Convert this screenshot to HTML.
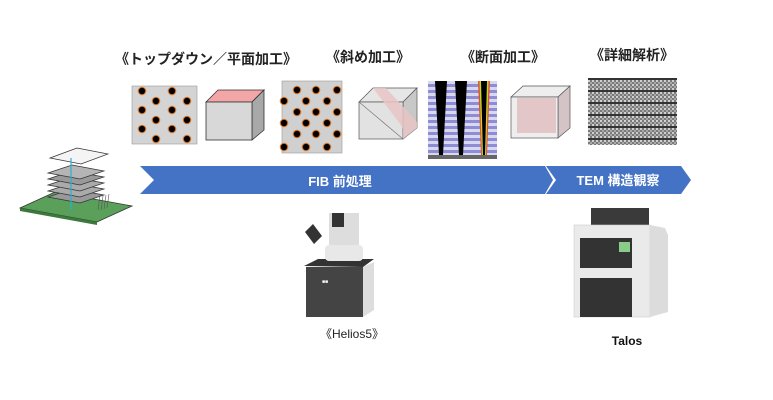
<!DOCTYPE html>
<html><head><meta charset="utf-8"><style>
html,body{margin:0;padding:0;background:#fff;}
svg{display:block;}
text{font-family:"Liberation Sans","Noto Sans CJK JP",sans-serif;}
</style></head><body>
<svg width="773" height="400" viewBox="0 0 773 400" xmlns="http://www.w3.org/2000/svg">
<defs>
<g id="dot"><circle r="4.3" fill="#e07a2a"/><circle r="3.2" fill="#000"/></g>
<pattern id="grain" width="4" height="4" patternUnits="userSpaceOnUse">
<rect width="4" height="4" fill="#7a7a7a"/><rect width="2" height="2" fill="#d0d0d0"/><rect x="2" y="2" width="2" height="2" fill="#a8a8a8"/>
</pattern>
</defs>
<g font-size="14" font-weight="bold" fill="#222">
<text x="206" y="64" text-anchor="middle">《トップダウン／平面加工》</text>
<text x="368" y="62" text-anchor="middle">《斜め加工》</text>
<text x="503" y="62" text-anchor="middle">《断面加工》</text>
<text x="632" y="60" text-anchor="middle">《詳細解析》</text>
</g>
<rect x="132" y="86" width="65" height="58" fill="#d4d4d4" stroke="#999" stroke-width="0.6"/>
<g>
<use href="#dot" x="142" y="91"/><use href="#dot" x="172" y="91"/>
<use href="#dot" x="156" y="101"/><use href="#dot" x="187" y="101"/>
<use href="#dot" x="142" y="110"/><use href="#dot" x="172" y="110"/>
<use href="#dot" x="156" y="120"/><use href="#dot" x="187" y="120"/>
<use href="#dot" x="142" y="129"/><use href="#dot" x="172" y="129"/>
<use href="#dot" x="156" y="139"/><use href="#dot" x="187" y="139"/>
</g>
<polygon points="206,102 218,90 264,90 252,102" fill="#f2a6a8" stroke="#333" stroke-width="0.8"/>
<polygon points="252,102 264,90 264,130 252,140" fill="#a8a8a8" stroke="#333" stroke-width="0.8"/>
<rect x="206" y="102" width="46" height="38" fill="#d8d8d8" stroke="#333" stroke-width="0.8"/>
<rect x="282" y="81" width="60" height="72" fill="#d0d0d0" stroke="#999" stroke-width="0.6"/>
<g>
<use href="#dot" x="297" y="90"/><use href="#dot" x="316" y="90"/><use href="#dot" x="337" y="90"/>
<use href="#dot" x="284" y="101"/><use href="#dot" x="306" y="101"/><use href="#dot" x="327" y="101"/>
<use href="#dot" x="297" y="112"/><use href="#dot" x="316" y="112"/><use href="#dot" x="337" y="112"/>
<use href="#dot" x="284" y="123"/><use href="#dot" x="306" y="123"/><use href="#dot" x="327" y="123"/>
<use href="#dot" x="297" y="134"/><use href="#dot" x="316" y="134"/><use href="#dot" x="337" y="134"/>
<use href="#dot" x="284" y="147"/><use href="#dot" x="306" y="147"/><use href="#dot" x="327" y="147"/>
</g>
<polygon points="359,102 373,88 417,88 403,102" fill="#e6e6e6" stroke="#555" stroke-width="0.7"/>
<polygon points="403,102 417,88 417,128 403,139" fill="#c8c8c8" stroke="#555" stroke-width="0.7"/>
<rect x="359" y="102" width="44" height="37" fill="#e2e2e2" stroke="#555" stroke-width="0.7"/>
<polygon points="373,88 386,88 417,122 417,128 403,139 403,128" fill="#e8c4c6" opacity="0.85"/>
<line x1="359" y1="102" x2="403" y2="139" stroke="#777" stroke-width="0.7"/>
<rect x="428" y="81" width="69" height="78" fill="#d8d8ee"/>
<g fill="#8f8cd6">
<rect x="428" y="84" width="69" height="3"/><rect x="428" y="90" width="69" height="3"/>
<rect x="428" y="96" width="69" height="3"/><rect x="428" y="102" width="69" height="3"/>
<rect x="428" y="108" width="69" height="3"/><rect x="428" y="114" width="69" height="3"/>
<rect x="428" y="120" width="69" height="3"/><rect x="428" y="126" width="69" height="3"/>
<rect x="428" y="132" width="69" height="3"/><rect x="428" y="138" width="69" height="3"/>
<rect x="428" y="144" width="69" height="3"/><rect x="428" y="150" width="69" height="3"/>
</g>
<rect x="428" y="155" width="69" height="4" fill="#666"/>
<polygon points="435,81 447,81 443,155 439,155" fill="#000"/>
<polygon points="455,81 467,81 463,155 459,155" fill="#000"/>
<polygon points="478,81 490,81 487,155 481,155" fill="#e05030"/>
<polygon points="479.5,81 488.5,81 486,155 482,155" fill="#c8d820"/>
<polygon points="481,81 487,81 485,155 483,155" fill="#000"/>
<polygon points="511,97 523,86 570,86 558,97" fill="#eee" stroke="#555" stroke-width="0.7"/>
<polygon points="558,97 570,86 570,128 558,138" fill="#d4c4c6" stroke="#555" stroke-width="0.7"/>
<rect x="511" y="97" width="47" height="41" fill="#eee" stroke="#555" stroke-width="0.7"/>
<rect x="517" y="98" width="39" height="35" fill="#e2c6c8"/>
<rect x="588" y="78" width="89" height="67" fill="url(#grain)"/>
<g fill="#333">
<rect x="588" y="78" width="89" height="2"/><rect x="588" y="90" width="89" height="2"/>
<rect x="588" y="102" width="89" height="2"/><rect x="588" y="114" width="89" height="2"/>
<rect x="588" y="126" width="89" height="2"/><rect x="588" y="138" width="89" height="2"/>
</g>
<polygon points="140,166 545,166 553,180 545,194 140,194 154,180" fill="#4472c4"/>
<polygon points="546,166 681,166 691,180 681,194 546,194 556,180" fill="#4472c4"/>
<text x="340" y="186" font-size="13" font-weight="bold" fill="#fff" text-anchor="middle">FIB 前処理</text>
<text x="618" y="185" font-size="13" font-weight="bold" fill="#fff" text-anchor="middle">TEM 構造観察</text>
<polygon points="20,208 55,192 132,206 97,222" fill="#5aa05a" stroke="#333" stroke-width="0.8"/>
<polygon points="20,208 97,222 97,225 20,211" fill="#3a7a3a"/>
<g stroke="#333" stroke-width="0.7">
<polygon points="48,197 72,189 104,195 80,203" fill="#999"/>
<polygon points="48,191 72,183 104,189 80,197" fill="#aaa"/>
<polygon points="48,185 72,177 104,183 80,191" fill="#aaa"/>
<polygon points="48,179 72,171 104,177 80,185" fill="#999"/>
<polygon points="48,173 72,165 104,171 80,179" fill="#b5b5b5"/>
<polygon points="50,158 77,148 108,154 81,164" fill="#f4f4f4"/>
</g>
<line x1="71" y1="158" x2="71" y2="210" stroke="#2ab0d0" stroke-width="1.2"/>
<g stroke="#555" stroke-width="0.6"><line x1="100" y1="195" x2="98" y2="210"/><line x1="103" y1="196" x2="101" y2="210"/><line x1="106" y1="195" x2="104" y2="209"/><line x1="109" y1="194" x2="107" y2="208"/></g>
<rect x="306" y="267" width="57" height="50" fill="#444"/>
<polygon points="306,267 363,267 374,262 374,310 363,317 363,267" fill="#ddd"/>
<polygon points="304,266 318,259 374,259 363,267" fill="#333"/>
<rect x="329" y="213" width="30" height="48" fill="#ddd"/>
<rect x="332" y="213" width="12" height="14" fill="#333"/>
<rect x="325" y="245" width="38" height="16" rx="4" fill="#e8e8e8"/>
<polygon points="305,232 313,224 322,236 314,244" fill="#333"/>
<text x="322" y="283" font-size="5" fill="#fff">■■</text>
<rect x="591" y="208" width="58" height="17" fill="#3a3a3a"/>
<rect x="574" y="225" width="76" height="92" fill="#eaeaea" stroke="#ccc" stroke-width="0.6"/>
<polygon points="650,225 665,228 668,235 668,312 650,317" fill="#dcdcdc"/>
<rect x="580" y="238" width="52" height="30" fill="#333"/>
<rect x="619" y="242" width="11" height="10" fill="#8c8"/>
<rect x="580" y="278" width="52" height="39" fill="#333"/>
<text x="320" y="338" font-size="12" fill="#222">《Helios5》</text>
<text x="627" y="345" font-size="12" font-weight="bold" fill="#111" text-anchor="middle">Talos</text>
</svg>
</body></html>
